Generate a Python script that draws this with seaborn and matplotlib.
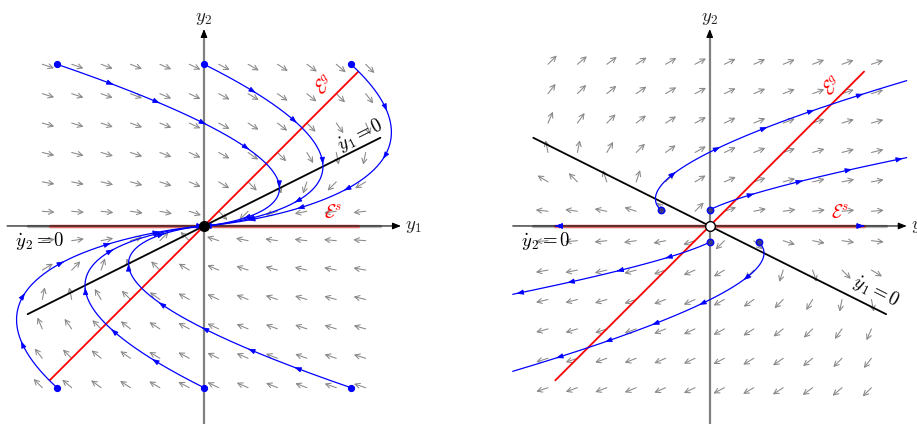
import numpy as np
import pandas as pd
import seaborn as sns
import matplotlib.pyplot as plt

# linear systems y' = A y (Jordan blocks)
A_left = [[-1.0, 2.0], [0.0, -1.0]]
A_right = [[1.0, 2.0], [0.0, 1.0]]

# initial conditions of the drawn trajectories
starts_left = [(-5, 5.5), (0, 5.5), (5, 5.5), (-5, -5.5), (0, -5.5), (5, -5.5)]
starts_right = [(-1.67, 0.55), (0, 0.55), (0, -0.55), (1.67, -0.55)]

# grid of the direction field
grid = [-5.5, -4.5, -3.5, -2.5, -1.5, -0.5, 0.5, 1.5, 2.5, 3.5, 4.5, 5.5]

# extent of the eigen-lines and nullclines
eg_end = 5.25
null_end = 6.0
axis_end = 6.7

sns.set_theme(style="white")
plt.rcParams["mathtext.fontset"] = "cm"
plt.rcParams["font.family"] = ["DejaVu Serif"]


def integrate(A, y0, t_max, dt=0.005, xmax=6.7):
    A = np.array(A)
    Ad = A * dt
    M = np.eye(2) + Ad + Ad @ Ad / 2 + Ad @ Ad @ Ad / 6 + Ad @ Ad @ Ad @ Ad / 24
    pts = [np.array(y0, dtype=float)]
    for _ in range(int(t_max / dt)):
        nxt = M @ pts[-1]
        if abs(nxt[0]) > xmax:
            p = pts[-1]
            f = (np.sign(nxt[0]) * xmax - p[0]) / (nxt[0] - p[0])
            pts.append(p + f * (nxt - p))
            break
        pts.append(nxt)
    return np.array(pts)


def mark_arrows(ax, pts, first, step=1.72, color="blue"):
    seg = np.hypot(np.diff(pts[:, 0]), np.diff(pts[:, 1]))
    s = np.concatenate([[0], np.cumsum(seg)])
    pos = first
    while pos < s[-1]:
        i = np.searchsorted(s, pos)
        i = min(max(i, 1), len(pts) - 1)
        d = pts[i] - pts[i - 1]
        d = d / np.hypot(*d)
        p = pts[i]
        ax.annotate("", xy=p, xytext=p - 0.05 * d,
                    arrowprops=dict(arrowstyle="-|>,head_length=0.6,head_width=0.22",
                                    color=color, lw=0.6, shrinkA=0, shrinkB=0,
                                    mutation_scale=7), zorder=6)
        pos += step


def draw_panel(ax, A, starts, stable, traj_first, es_first, labels):
    A = np.array(A)
    # direction field
    for gx in grid:
        for gy in grid:
            v = A @ np.array([gx, gy])
            v = v / np.hypot(*v) * 0.42
            ax.annotate("", xy=(gx + v[0], gy + v[1]), xytext=(gx, gy),
                        arrowprops=dict(arrowstyle="->,head_length=0.35,head_width=0.18",
                                        color="#888888", lw=0.75, shrinkA=0, shrinkB=0,
                                        mutation_scale=10), zorder=1)

    # y2 axis (gray) and y1 nullcline
    ax.plot([0, 0], [-7.5, axis_end - 0.1], color="gray", lw=1.6, zorder=2)
    ax.annotate("", xy=(0, axis_end), xytext=(0, axis_end - 0.2),
                arrowprops=dict(arrowstyle="-|>,head_length=0.5,head_width=0.2",
                                color="black", lw=0.8, shrinkA=0, shrinkB=0,
                                mutation_scale=10), zorder=3)
    ax.plot([-null_end, null_end], [0, 0], color="#b8b8b8", lw=2.4, zorder=2)

    slope = -A[0, 0] / A[0, 1]
    sns.lineplot(x=[-null_end, null_end], y=[-null_end * slope, null_end * slope],
                 color="black", lw=1.3, ax=ax, zorder=3)
    # E^g
    sns.lineplot(x=[-eg_end, eg_end], y=[-eg_end, eg_end],
                 color="red", lw=1.3, ax=ax, zorder=3)
    # E^s
    ax.plot([-eg_end, eg_end], [0, 0], color="#e46a6a", lw=2.4, zorder=3)
    ax.annotate("", xy=(axis_end, 0), xytext=(-axis_end, 0),
                arrowprops=dict(arrowstyle="-|>,head_length=0.5,head_width=0.2",
                                color="black", lw=0.8, shrinkA=0, shrinkB=0,
                                mutation_scale=10), zorder=4)

    # arrows on E^s
    for sgn in (-1, 1):
        if stable:
            line = np.array([[sgn * eg_end, 0], [0, 0]])
        else:
            line = np.array([[0, 0], [sgn * eg_end, 0]])
        mark_arrows(ax, line, es_first)

    # trajectories
    for y0 in starts:
        pts = integrate(A, y0, 20 if stable else 6)
        sns.lineplot(x=pts[:, 0], y=pts[:, 1], sort=False, estimator=None,
                     color="blue", lw=0.9, ax=ax, zorder=5)
        mark_arrows(ax, pts, traj_first)
        if stable:
            ax.plot(*y0, "o", color="blue", ms=4.2, zorder=7)
        else:
            ax.plot(*y0, "o", mfc="#3a3a80", mec="blue", mew=1.0, ms=4.6, zorder=7)

    if stable:
        ax.plot(0, 0, "o", color="black", ms=7, zorder=8)
    else:
        ax.plot(0, 0, "o", mfc="white", mec="black", mew=1.0, ms=7, zorder=8)

    fs = 13.5
    eg_xy, es_xy, n1_xy, n1_rot = labels
    ax.text(*eg_xy, r"$\mathcal{E}^g$", color="red", rotation=45, fontsize=fs,
            ha="center", va="center", zorder=9)
    ax.text(*es_xy, r"$\mathcal{E}^s$", color="red", fontsize=fs,
            ha="center", va="center", zorder=9)
    ax.text(*n1_xy, r"$\dot{y}_1 = 0$", color="black", rotation=n1_rot,
            fontsize=fs, ha="center", va="center", zorder=9)
    ax.text(-5.58, -0.5, r"$\dot{y}_2 = 0$", color="black", fontsize=fs,
            ha="center", va="center", zorder=9)
    ax.text(0, 7.06, r"$y_2$", fontsize=fs, ha="center", va="center")
    ax.text(6.84, 0, r"$y_1$", fontsize=fs, ha="left", va="center")
    ax.set_axis_off()


fig = plt.figure(figsize=(9.17, 4.24), dpi=100)
ax1 = fig.add_axes([0.26 / 917, 0.14 / 424, 409.5 / 917, 423.7 / 424])
ax1.set_xlim(-6.93, 7.0)
ax1.set_ylim(-6.73, 7.68)
ax2 = fig.add_axes([503.9 / 917, 0.14 / 424, 417.5 / 917, 423.7 / 424])
ax2.set_xlim(-7.0, 7.2)
ax2.set_ylim(-6.73, 7.68)

draw_panel(ax1, A_left, starts_left, True, 2.0, 1.15,
           ((4.12, 4.78), (4.4, 0.45), (5.3, 3.1), 26.57))
draw_panel(ax2, A_right, starts_right, False, 1.6, 1.7,
           ((4.2, 4.75), (4.42, 0.45), (5.66, -2.22), -26.57))

fig.savefig("out.png", dpi=100)
